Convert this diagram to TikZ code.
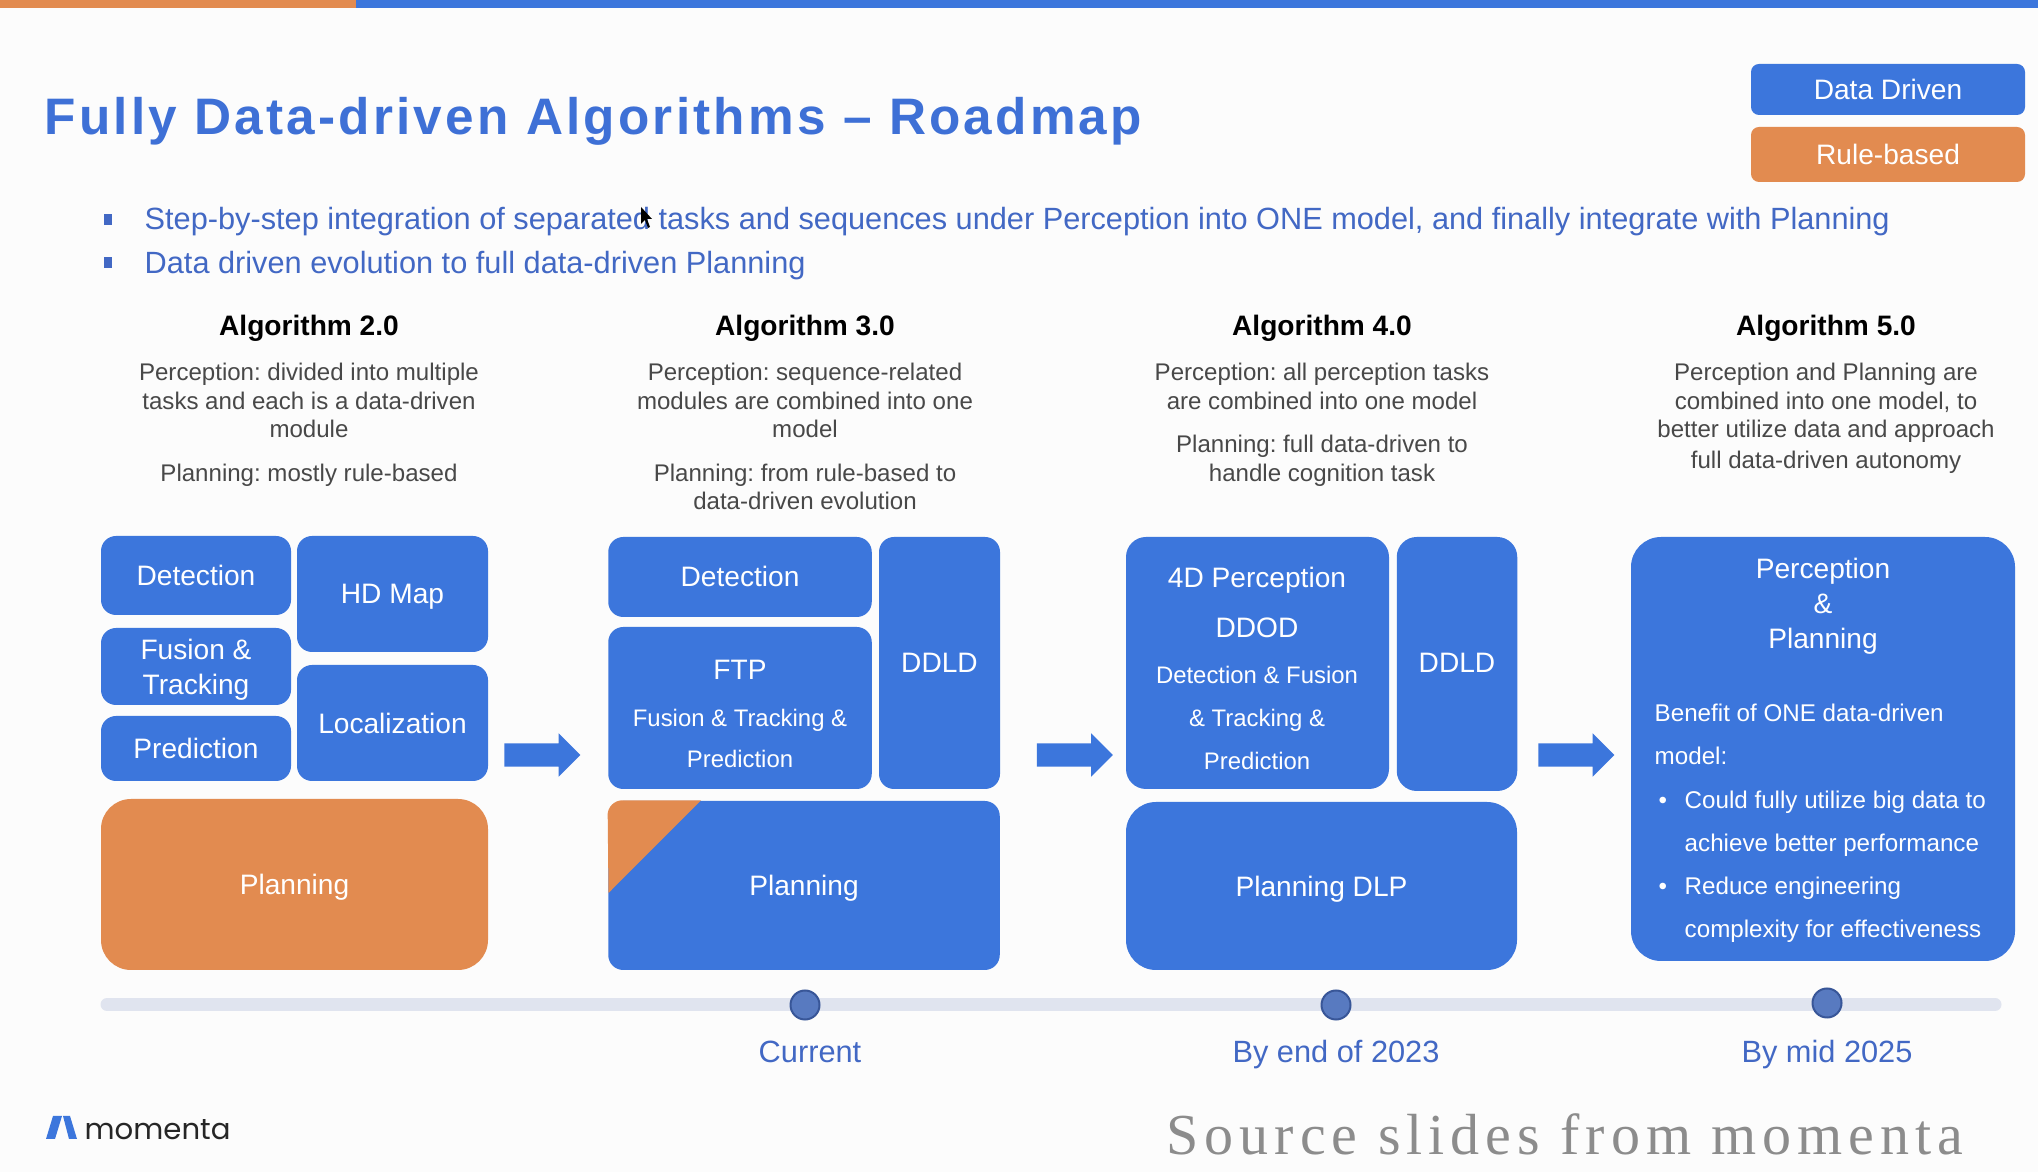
\documentclass[tikz,border=0pt]{standalone}
\usepackage{fontspec}
\setmainfont{Liberation Sans}
\frenchspacing
\newfontfamily\titlefont[LetterSpace=6.2]{Liberation Sans}
\newfontfamily\wmfont[LetterSpace=10.3]{Liberation Serif}
\newfontfamily\logofont{Poppins}
\definecolor{mmblue}{RGB}{60,118,220}
\definecolor{mmorange}{RGB}{226,139,80}
\definecolor{mmtitle}{RGB}{62,112,214}
\definecolor{mmbullet}{RGB}{66,104,196}
\definecolor{mmgray}{RGB}{72,72,72}
\definecolor{mmtrack}{RGB}{224,228,239}
\definecolor{mmdot}{RGB}{88,122,192}
\definecolor{mmdotedge}{RGB}{56,86,152}
\definecolor{mmmark}{RGB}{140,140,140}
\usetikzlibrary{arrows.meta,positioning,shapes.arrows,calc}
\tikzset{
  bluebox/.style={fill=mmblue, rounded corners=0.15cm, align=center, inner sep=0pt, text=white, font=\fontsize{8}{10}\selectfont},
  bigbluebox/.style={bluebox, rounded corners=0.3cm},
  orangebox/.style={bluebox, fill=mmorange},
  boxtext/.style={inner sep=0pt, align=center, text=white, font=\fontsize{8}{10}\selectfont},
  smalltext/.style={boxtext, font=\fontsize{6.8}{11.9}\selectfont},
  algohead/.style={inner sep=0pt, font=\fontsize{8}{10}\selectfont\bfseries, text=black},
  algotext/.style={inner sep=0pt, anchor=north, align=center, text=mmgray, font=\fontsize{6.85}{8.1}\selectfont},
  bulletsq/.style={fill=mmbullet, inner sep=0pt, minimum width=0.08cm, minimum height=0.11cm},
  bullettext/.style={inner sep=0pt, anchor=base west, text=mmbullet, font=\fontsize{8.74}{10}\selectfont},
  steparrow/.style={single arrow, fill=mmblue, inner xsep=0pt, inner ysep=0.11cm, minimum width=0.42cm, minimum height=0.76cm, single arrow head extend=0.1cm, single arrow head indent=0pt},
  milestone/.style={circle, fill=mmdot, draw=mmdotedge, line width=0.02cm, inner sep=0pt, minimum size=0.29cm},
  datelabel/.style={inner sep=0pt, anchor=base, text=mmbullet, font=\fontsize{8.75}{10}\selectfont},
}
\begin{document}
\begin{tikzpicture}
  \useasboundingbox[fill=white!99!black] (0,0) rectangle (20.38,11.72);

  %% Top bar and title
  \fill[mmorange] (0,11.64) rectangle (3.56,11.72);
  \fill[mmblue] (3.56,11.64) rectangle (20.38,11.72);
  \node[inner sep=0pt, anchor=base west, text=mmtitle, font=\fontsize{14.6}{16}\titlefont\bfseries] (title) at (0.44,10.37) {Fully Data-driven Algorithms – Roadmap};

  %% Legend
  \node[bluebox, rounded corners=0.08cm, minimum width=2.74cm, minimum height=0.51cm] (legdata) at (18.88,10.825) {Data Driven};
  \node[orangebox, rounded corners=0.08cm, minimum width=2.74cm, minimum height=0.55cm] (legrule) at (18.88,10.175) {Rule-based};

  %% Bullets
  \node[bulletsq] (sq1) at (1.08,9.525) {};
  \node[bulletsq] (sq2) at (1.08,9.095) {};
  \node[bullettext] (bullet1) at (1.44,9.425) {Step-by-step integration of separated tasks and sequences under Perception into ONE model, and finally integrate with Planning};
  \node[bullettext] (bullet2) at (1.44,8.98) {Data driven evolution to full data-driven Planning};
  \fill[black] (6.41,9.65) -- (6.41,9.48) -- (6.45,9.52) -- (6.48,9.44) -- (6.50,9.45) -- (6.47,9.53) -- (6.52,9.53) -- cycle;

  %% Column headers
  \node[algohead] (head2) at (3.09,8.44) {Algorithm 2.0};
  \node[algohead] (head3) at (8.05,8.44) {Algorithm 3.0};
  \node[algohead] (head4) at (13.22,8.44) {Algorithm 4.0};
  \node[algohead] (head5) at (18.26,8.44) {Algorithm 5.0};
  \node[algotext] (text2) at (3.09,8.095) {Perception: divided into multiple\\tasks and each is a data-driven\\module\\[4.3pt]Planning: mostly rule-based};
  \node[algotext] (text3) at (8.05,8.095) {Perception: sequence-related\\modules are combined into one\\model\\[4.3pt]Planning: from rule-based to\\data-driven evolution};
  \node[algotext] (text4) at (13.22,8.095) {Perception: all perception tasks\\are combined into one model\\[4.3pt]Planning: full data-driven to\\handle cognition task};
  \node[algotext] (text5) at (18.26,8.095) {Perception and Planning are\\combined into one model, to\\better utilize data and approach\\[0.6pt]full data-driven autonomy};

  %% Algorithm 2.0 blocks
  \node[bluebox, minimum width=1.90cm, minimum height=0.79cm] (det2) at (1.96,5.965) {Detection};
  \node[bluebox, minimum width=1.91cm, minimum height=1.16cm] (hdmap) at (3.925,5.78) {};
  \node[boxtext] (hdmaptext) at (3.925,5.755) {HD Map};
  \node[bluebox, minimum width=1.90cm, minimum height=0.77cm] (fus2) at (1.96,5.055) {};
  \node[boxtext] (fus2text) at (1.96,5.02) {Fusion \&\\Tracking};
  \node[bluebox, minimum width=1.90cm, minimum height=0.65cm] (pred2) at (1.96,4.235) {Prediction};
  \node[bluebox, minimum width=1.91cm, minimum height=1.16cm] (loc2) at (3.925,4.49) {Localization};
  \node[orangebox, rounded corners=0.3cm, minimum width=3.87cm, minimum height=1.71cm] (plan2) at (2.945,2.875) {};
  \node[boxtext] (plan2text) at (2.945,2.845) {Planning};
  \node[steparrow] (arrow2) at (5.365,4.17) {};

  %% Algorithm 3.0 blocks
  \node[bluebox, minimum width=2.635cm, minimum height=0.80cm] (det3) at (7.40,5.95) {};
  \node[boxtext] (det3text) at (7.40,5.96) {Detection};
  \node[bluebox, minimum width=2.635cm, minimum height=1.62cm] (ftp) at (7.40,4.64) {};
  \node[boxtext] (ftptop) at (7.40,5.025) {FTP};
  \node[smalltext] (ftplow) at (7.40,4.335) {Fusion \& Tracking \&\\Prediction};
  \node[bluebox, minimum width=1.21cm, minimum height=2.52cm] (ddld3) at (9.395,5.09) {};
  \node[boxtext] (ddld3text) at (9.395,5.09) {DDLD};
  \node[bluebox, minimum width=3.915cm, minimum height=1.69cm] (plan3) at (8.04,2.865) {};
  \begin{scope}
    \clip[rounded corners=0.15cm] (plan3.south west) rectangle (plan3.north east);
    \fill[mmorange] (6.085,2.79) -- (plan3.north west) -- ([xshift=0.935cm]plan3.north west) -- cycle;
  \end{scope}
  \node[boxtext] (plan3text) at (8.04,2.835) {Planning};
  \node[steparrow] (arrow3) at (10.69,4.17) {};

  %% Algorithm 4.0 blocks
  \node[bigbluebox, rounded corners=0.2cm, minimum width=2.63cm, minimum height=2.52cm] (perc4) at (12.575,5.09) {};
  \node[boxtext] (perc4top) at (12.57,5.695) {4D Perception\\[4.2pt]DDOD};
  \node[smalltext, font=\fontsize{6.8}{12.2}\selectfont] (perc4low) at (12.57,4.54) {Detection \& Fusion\\\& Tracking \&\\Prediction};
  \node[bluebox, rounded corners=0.2cm, minimum width=1.205cm, minimum height=2.54cm] (ddld4) at (14.57,5.08) {};
  \node[boxtext] (ddld4text) at (14.57,5.09) {DDLD};
  \node[bigbluebox, minimum width=3.91cm, minimum height=1.68cm] (dlp) at (13.215,2.86) {};
  \node[boxtext] (dlptext) at (13.215,2.83) {Planning DLP};
  \node[steparrow] (arrow4) at (15.705,4.17) {};

  %% Algorithm 5.0 block
  \node[bigbluebox, minimum width=3.84cm, minimum height=4.24cm] (pp) at (18.23,4.23) {};
  \node[boxtext] (pptitle) at (18.23,5.655) {Perception\\\&\\Planning};
  \node[boxtext, anchor=north west, align=left, font=\fontsize{6.88}{12.3}\selectfont] (ppbenefit) at (16.54,4.685) {Benefit of ONE data-driven\\model:\\\makebox[0.30cm][l]{\hspace{0.04cm}•}Could fully utilize big data to\\\hspace*{0.30cm}achieve better performance\\\makebox[0.30cm][l]{\hspace{0.04cm}•}Reduce engineering\\\hspace*{0.30cm}complexity for effectiveness};

  %% Timeline
  \coordinate (trackstart) at (1.07,1.675);
  \coordinate (trackend) at (19.95,1.675);
  \draw[mmtrack, line width=0.13cm, line cap=round] (trackstart) -- (trackend);
  \node[milestone] (dot1) at (8.05,1.67) {};
  \node[milestone] (dot2) at (13.36,1.67) {};
  \node[milestone] (dot3) at (18.27,1.69) {};
  \node[datelabel] (date1) at (8.10,1.09) {Current};
  \node[datelabel] (date2) at (13.36,1.09) {By end of 2023};
  \node[datelabel] (date3) at (18.27,1.09) {By mid 2025};

  %% Logo and source note
  \fill[mmblue] (0.46,0.33) -- (0.55,0.33) -- (0.62,0.56) -- (0.53,0.56) -- cycle;
  \fill[mmblue] (0.63,0.56) -- (0.70,0.56) -- (0.77,0.33) -- (0.69,0.33) -- cycle;
  \node[inner sep=0pt, anchor=base west, text=black!85, font=\fontsize{8.3}{10}\logofont] (logo) at (0.84,0.32) {momenta};
  \node[inner sep=0pt, anchor=base west, text=mmmark, font=\fontsize{16.5}{18}\wmfont] (source) at (11.66,0.17) {Source slides from momenta};
\end{tikzpicture}
\end{document}
